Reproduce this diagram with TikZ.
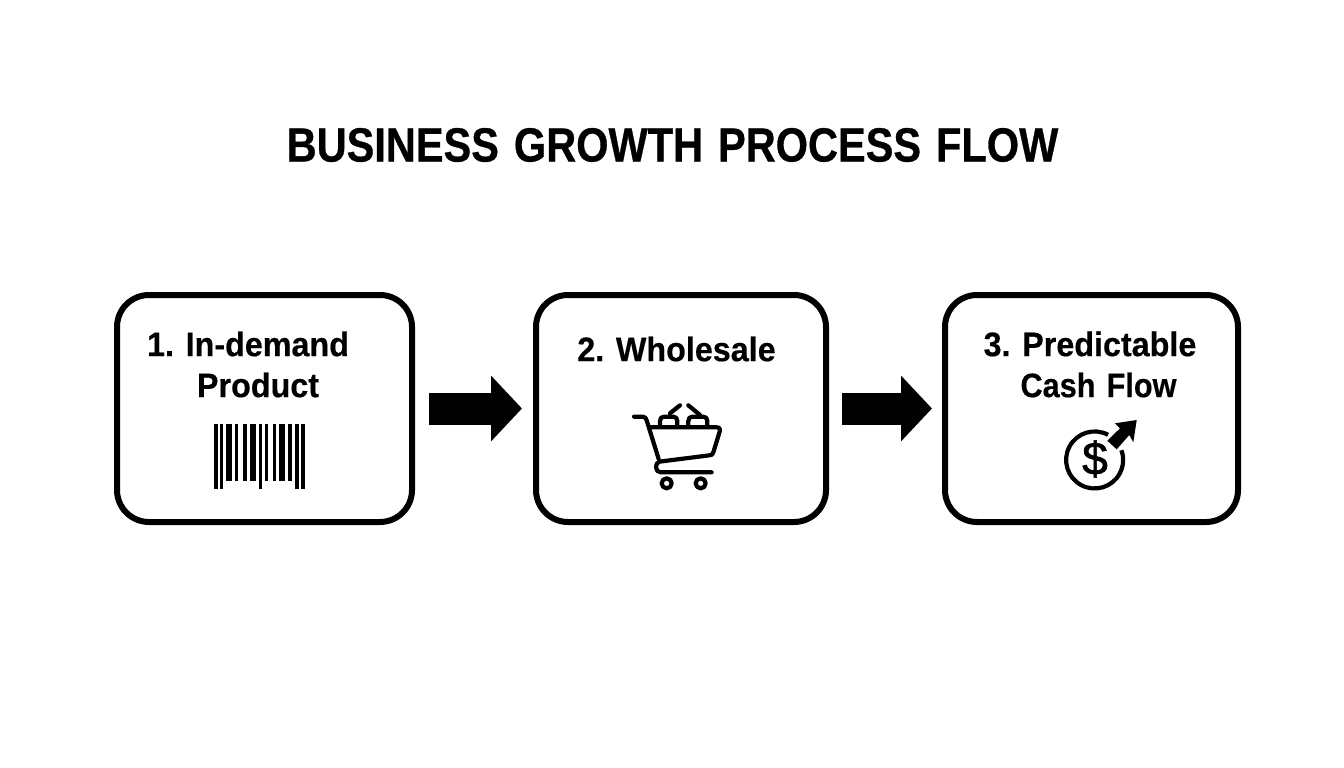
\documentclass[tikz,border=0pt]{standalone}
\usepackage{fontspec}
\setmainfont{Liberation Sans}
\newfontfamily\titlefont[FakeStretch=0.865,FakeBold=0.6,WordSpace=1.3]{Liberation Sans}
\newfontfamily\labelfont[FakeStretch=0.95,FakeBold=0.4,WordSpace=1.3]{Liberation Sans}
\newfontfamily\dollarfont[FakeBold=1.5]{Liberation Sans}
\usetikzlibrary{arrows.meta}
\tikzset{
  stepbox/.style={draw=black,line width=6pt,rounded corners=32pt,minimum width=295pt,minimum height=227pt,inner sep=0pt},
  flow/.style={line width=32pt,draw=black,-{Triangle[length=31pt,width=64pt]}},
  titletext/.style={font=\titlefont\fontsize{48pt}{50pt}\bfseries,inner sep=0pt,anchor=center},
  label/.style={font=\labelfont\fontsize{34pt}{36pt}\bfseries,inner sep=0pt,anchor=center},
  icon/.style={draw=black,line width=4.2pt,line cap=round,line join=round},
  bar/.style={fill=black}
}
\newcommand{\vbar}[3]{\fill[bar] (#1,424.3) rectangle (#2,#3);}
\begin{document}
\frenchspacing
\begin{tikzpicture}[x=1pt,y=-1pt]
\useasboundingbox (0,0) rectangle (1344,768);
\node[titletext] (title) at (672.5,145) {BUSINESS GROWTH PROCESS FLOW};
\node[stepbox] (b1) at (264.5,408.5) {};
\node[stepbox,minimum width=290pt] (b2) at (681,408.5) {};
\node[stepbox,minimum width=293pt] (b3) at (1091.5,408.5) {};
\draw[flow] ([xshift=14pt]b1.east) -- ([xshift=-11pt]b2.west);
\draw[flow] ([xshift=13pt]b2.east) -- ([xshift=-10pt]b3.west);
\node[label] (l1a) at (248,344) {1. In-demand};
\node[label] (l1b) at (258,385) {Product};
\node[label] (l2) at (676.5,349) {2. Wholesale};
\node[label] (l3a) at (1090,344) {3. Predictable};
\node[label] (l3b) at (1098.5,385) {\scalebox{0.95}[1]{Cash Flow}};
% barcode
\vbar{214.3}{217.7}{489.3}
\vbar{220}{223.3}{489.3}
\vbar{226}{232.3}{480.7}
\vbar{235.3}{238.3}{480.7}
\vbar{243}{246.7}{480.7}
\vbar{250}{256}{480.7}
\vbar{258.7}{262.3}{489.3}
\vbar{264.7}{267.7}{480.7}
\vbar{273.3}{276.3}{480.7}
\vbar{278.7}{284.7}{480.7}
\vbar{288.3}{292.3}{480.7}
\vbar{295.3}{299}{489.3}
\vbar{301}{305}{489.3}
% cart
\begin{scope}[shift={(620,395)},x=0.3333pt,y=-0.3333pt]
\draw[icon] (42,65) -- (68,65) .. controls (76,65) and (78,70) .. (80,76) -- (116,192);
\draw[icon] (88,97) -- (290,97) .. controls (300,97) and (301,103) .. (299,110) -- (280,172) .. controls (278,179) and (276,180) .. (268,181) -- (118,200) .. controls (104,203) and (104,232) .. (122,232) -- (275,232);
\draw[icon] (120,93) -- (120,78) .. controls (120,70) and (124,65) .. (132,65) -- (160,65) .. controls (168,65) and (172,70) .. (172,78) -- (172,93);
\draw[icon] (205,93) -- (205,78) .. controls (205,70) and (209,65) .. (217,65) -- (250,65) .. controls (258,65) and (262,70) .. (262,78) -- (262,93);
\draw[icon] (150,55) -- (180,31);
\draw[icon] (205,31) -- (240,60);
\draw[icon] (140,265) circle[radius=15];
\draw[icon] (242,265) circle[radius=15];
\end{scope}
% cash flow icon
\draw[draw=black,line width=4.2pt] (1108,434.8) arc[start angle=-62,delta angle=-318,radius=28.5];
\fill[black] (1136.7,420) -- (1115,423.3) -- (1120,428.3) -- (1107.3,440.7) -- (1116.7,449.3) -- (1129.3,435) -- (1133.3,442.3) -- cycle;
\node[font=\dollarfont\fontsize{46pt}{50pt}\selectfont,inner sep=0pt] (dollar) at (1095,459) {\$};
\end{tikzpicture}
\end{document}
